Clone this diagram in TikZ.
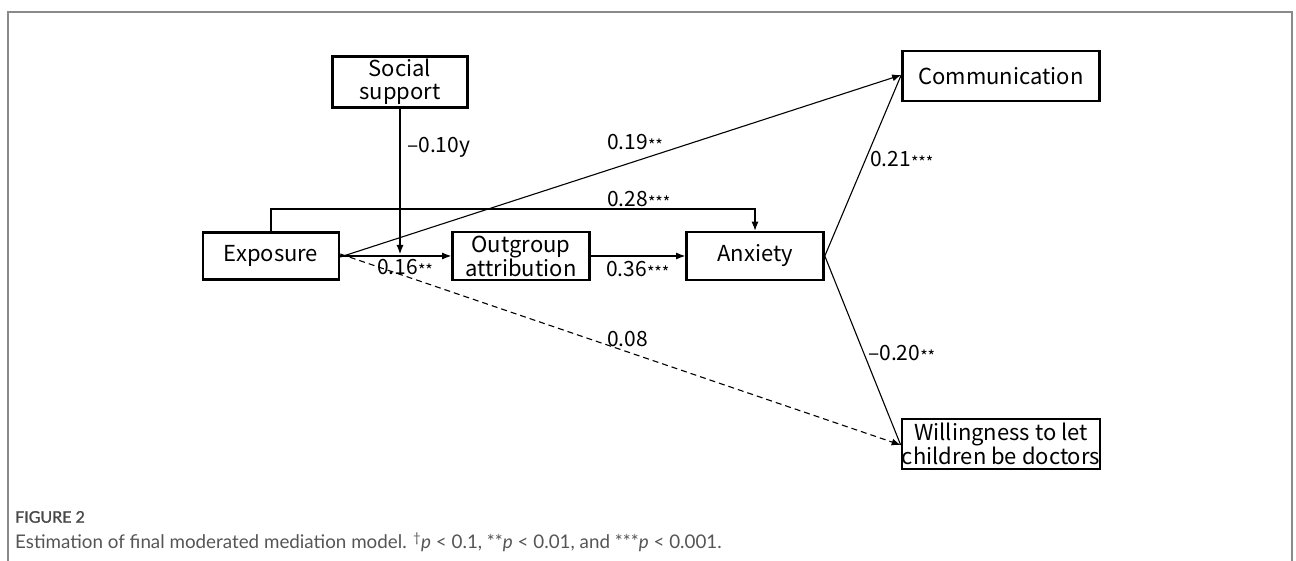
\documentclass[tikz,border=0pt]{standalone}
\usepackage{fontspec}
\setmainfont{Noto Sans CJK SC}
\newfontfamily\capfont{Lato}
\newfontfamily\capbold{Lato}[FakeBold=1.2]
\usetikzlibrary{arrows.meta}
\definecolor{framegray}{HTML}{8A8A8A}
\definecolor{capgray}{HTML}{555555}
\newcommand{\stars}[1]{{\fontsize{16}{16}\selectfont\raisebox{-1.5pt}{#1}}}
\tikzset{
  var/.style={draw, line width=2.6pt, minimum height=48pt, inner sep=0pt, align=center, font=\fontsize{22}{22.5}\selectfont},
  path/.style={line width=1.1pt, -{Latex[length=9pt,width=7pt]}},
  plain/.style={line width=1.1pt},
  lbl/.style={font=\fontsize{21}{22}\selectfont, inner sep=0pt}
}
\begin{document}
\begin{tikzpicture}[x=1pt,y=-1pt]
\useasboundingbox (0,0) rectangle (1296,561);
% frame
\draw[framegray, line width=1.8pt] (8,561) -- (8,12) -- (1292,12) -- (1292,561);
% nodes
\node[var, minimum width=135pt, minimum height=51pt] (soc) at (400,82) {Social\\support};
\node[var, minimum width=136pt, minimum height=47pt] (exp) at (271,256) {Exposure};
\node[var, minimum width=137pt] (out) at (521,256) {Outgroup\\attribution};
\node[var, minimum width=137pt] (anx) at (755,256) {Anxiety};
\node[var, minimum width=197pt, minimum height=50pt] (com) at (1001,76) {Communication};
\node[var, minimum width=197pt, minimum height=50pt] (wil) at (1001,444) {Willingness to let\\children be doctors};
% coordinates
\coordinate (mod) at (400,254);
\coordinate (c1) at (271,209);
\coordinate (c2) at (755,209);
% connectors
\draw[path] (exp.east) -- (out.west);
\draw[path] (soc.south) -- (mod);
\draw[path] (exp.north) -- (c1) -- (c2) -- (anx.north);
\draw[path] ([yshift=-1pt]exp.east) -- ([yshift=1pt]com.west);
\draw[path, dashed, dash pattern=on 6pt off 4pt] ([yshift=2pt]exp.east) -- ([yshift=-1pt]wil.west);
\draw[path] (out.east) -- (anx.west);
\draw[plain] (anx.east) -- ([yshift=1pt]com.west);
\draw[plain] (anx.east) -- ([yshift=-1pt]wil.west);
% labels
\node[lbl, anchor=west] (l1) at (407,147) {--0.10y};
\node[lbl, anchor=west] (l2) at (607,143) {0.19\stars{**}};
\node[lbl, anchor=west] (l3) at (607,200) {0.28\stars{***}};
\node[lbl, anchor=west] (l4) at (377,268) {0.16\stars{**}};
\node[lbl, anchor=west] (l5) at (606,270) {0.36\stars{***}};
\node[lbl, anchor=west] (l6) at (607,339) {0.08};
\node[lbl, anchor=west] (l7) at (870,160) {0.21\stars{***}};
\node[lbl, anchor=west] (l8) at (868,354) {--0.20\stars{**}};
% caption
\node[anchor=west, inner sep=0pt, text=capgray!85!black, font=\capbold\fontsize{16}{17}\selectfont] (fig) at (15,517) {FIGURE 2};
\node[anchor=west, inner sep=0pt, text=capgray, font=\capfont\fontsize{18.8}{20}\selectfont] (cap) at (15,542) {Estimation of final moderated mediation model. \textsuperscript{†}\textit{p} < 0.1, **\textit{p} < 0.01, and ***\textit{p} < 0.001.};
\end{tikzpicture}
\end{document}
